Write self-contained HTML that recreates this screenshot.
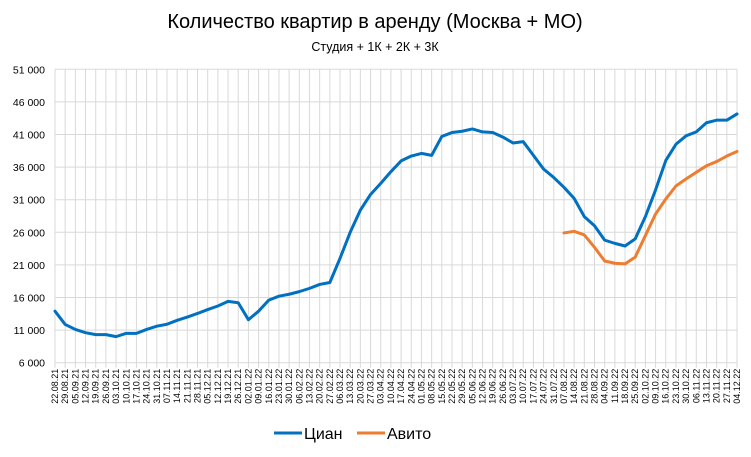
<!DOCTYPE html>
<html><head><meta charset="utf-8"><style>
html,body{margin:0;padding:0;background:#fff;}
svg{display:block;font-family:"Liberation Sans","Noto Sans CJK SC",sans-serif;}
</style></head><body>
<svg id="chart" width="751" height="457" viewBox="0 0 751 457">
<text x="375" y="28" text-anchor="middle" font-size="20" fill="#000">Количество квартир в аренду (Москва + МО)</text>
<text x="375" y="51" text-anchor="middle" font-size="12.5" fill="#000">Студия + 1К + 2К + 3К</text>
<g id="grid"></g>
<g id="yaxis"></g>
<g id="xaxis"></g>
<g id="series"></g>
<g>
<g><line x1="274" y1="433" x2="302" y2="433" stroke="#0070C0" stroke-width="3"/><text x="304" y="439" font-size="16">Циан</text></g>
<g><line x1="357" y1="433" x2="385" y2="433" stroke="#ED7D31" stroke-width="3"/><text x="387" y="439" font-size="16">Авито</text></g>
</g>
</svg>
<script>
const categories = ["22.08.21","29.08.21","05.09.21","12.09.21","19.09.21","26.09.21","03.10.21","10.10.21","17.10.21","24.10.21","31.10.21","07.11.21","14.11.21","21.11.21","28.11.21","05.12.21","12.12.21","19.12.21","26.12.21","02.01.22","09.01.22","16.01.22","23.01.22","30.01.22","06.02.22","13.02.22","20.02.22","27.02.22","06.03.22","13.03.22","20.03.22","27.03.22","03.04.22","10.04.22","17.04.22","24.04.22","01.05.22","08.05.22","15.05.22","22.05.22","29.05.22","05.06.22","12.06.22","19.06.22","26.06.22","03.07.22","10.07.22","17.07.22","24.07.22","31.07.22","07.08.22","14.08.22","21.08.22","28.08.22","04.09.22","11.09.22","18.09.22","25.09.22","02.10.22","09.10.22","16.10.22","23.10.22","30.10.22","06.11.22","13.11.22","20.11.22","27.11.22","04.12.22"];
const cianValues = [13900,11870,11100,10600,10300,10300,10000,10500,10500,11100,11600,11900,12500,13000,13550,14150,14700,15400,15200,12600,13900,15600,16200,16500,16900,17400,18000,18300,22000,26000,29400,31800,33500,35300,36950,37700,38100,37800,40700,41300,41500,41850,41400,41300,40600,39700,39900,37800,35700,34400,32900,31200,28400,27000,24800,24300,23900,25000,28400,32500,37000,39500,40800,41400,42800,43200,43200,44150];
const avitoValues = [null,null,null,null,null,null,null,null,null,null,null,null,null,null,null,null,null,null,null,null,null,null,null,null,null,null,null,null,null,null,null,null,null,null,null,null,null,null,null,null,null,null,null,null,null,null,null,null,null,null,25900,26150,25600,23700,21600,21250,21150,22200,25500,28800,31100,33100,34200,35200,36200,36850,37700,38400];
const yTicks = [6000,11000,16000,21000,26000,31000,36000,41000,46000,51000];
const yTickLabels = ["6 000","11 000","16 000","21 000","26 000","31 000","36 000","41 000","46 000","51 000"];

const NS="http://www.w3.org/2000/svg";
const X0=55, X1=737, Y0=362.7, Y1=69.3, VMIN=6000, VMAX=51000;
function xPos(i){return X0+(X1-X0)*i/(categories.length-1);}
function yPos(v){return Y0-(v-VMIN)/(VMAX-VMIN)*(Y0-Y1);}
function mk(tag,attrs,parent){const e=document.createElementNS(NS,tag);for(const k in attrs)e.setAttribute(k,attrs[k]);parent.appendChild(e);return e;}
const grid=document.getElementById('grid'), ya=document.getElementById('yaxis'), xa=document.getElementById('xaxis'), ser=document.getElementById('series');
yTicks.forEach((t,k)=>{
  const y=yPos(t);
  const l=mk('line',{x1:X0,x2:X1,y1:y,y2:y,stroke:'#d9d9d9','stroke-width':1},grid);
  
  
  const tx=mk('text',{x:X0-10,y:y+4,'text-anchor':'end','font-size':10.5,fill:'#000'},ya);
  tx.textContent=yTickLabels[k];
  
  
});
categories.forEach((c,i)=>{
  const x=xPos(i);
  const l=mk('line',{x1:x,x2:x,y1:Y1,y2:Y0+5,stroke:'#d9d9d9','stroke-width':1},grid);
  
  
  const tx=mk('text',{x:0,y:0,'text-anchor':'end','font-size':9,fill:'#000',transform:`translate(${x+3},${Y0+6}) rotate(-90)`},xa);
  tx.textContent=c;
  
  
});
function drawLine(vals,color,name){
  let d='';let started=false;
  vals.forEach((v,i)=>{if(v==null)return;d+=(started?'L':'M')+xPos(i).toFixed(2)+','+yPos(v).toFixed(2);started=true;});
  const p=mk('path',{d:d,fill:'none',stroke:color,'stroke-width':3,'stroke-linejoin':'round','stroke-linecap':'round'},ser);
  
  
}
drawLine(avitoValues,'#ED7D31','avito-line');
drawLine(cianValues,'#0070C0','cian-line');
</script>
</body></html>
